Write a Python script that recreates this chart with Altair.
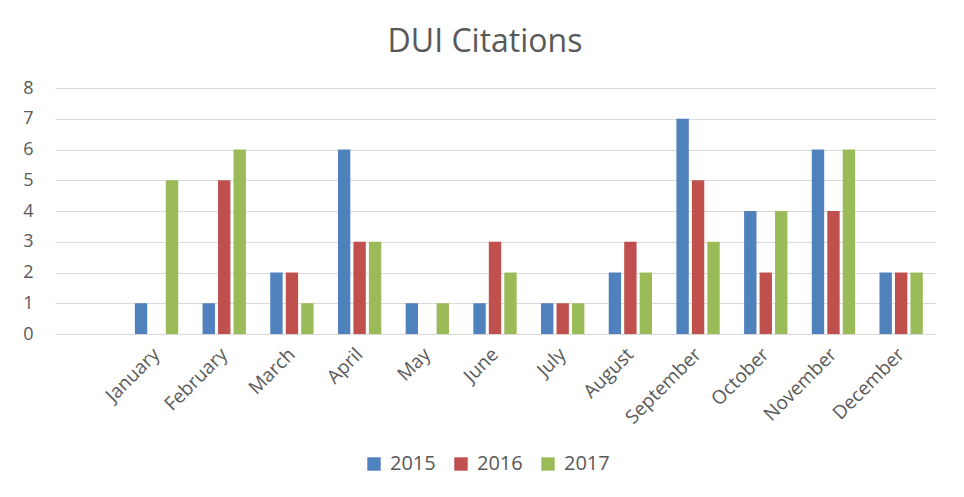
import altair as alt
import pandas as pd

months = ["January", "February", "March", "April", "May", "June",
          "July", "August", "September", "October", "November", "December"]
years = ["2015", "2016", "2017"]
v2015 = [1, 1, 2, 6, 1, 1, 1, 2, 7, 4, 6, 2]
v2016 = [0, 5, 2, 3, 0, 3, 1, 3, 5, 2, 4, 2]
v2017 = [5, 6, 1, 3, 1, 2, 1, 2, 3, 4, 6, 2]
colors = ["#4F81BD", "#C0504D", "#9BBB59"]

rows = []
for yr, vals in zip(years, [v2015, v2016, v2017]):
    for m, v in zip(months, vals):
        rows.append({"Month": m, "Year": yr, "Citations": v})
df = pd.DataFrame(rows)

domain_x = [""] + months
grey = "#595959"

chart = alt.Chart(df).mark_bar().encode(
    x=alt.X("Month:N", sort=domain_x,
            scale=alt.Scale(domain=domain_x, paddingInner=0.36, paddingOuter=0.18),
            axis=alt.Axis(title=None, labelAngle=-45, labelFontSize=19, labelColor=grey,
                          labelFont="Open Sans", ticks=False, domainColor="#d9d9d9",
                          labelPadding=17, labelAlign="right", labelBaseline="middle")),
    xOffset=alt.XOffset("Year:N", scale=alt.Scale(paddingInner=0.2)),
    y=alt.Y("Citations:Q", scale=alt.Scale(domain=[0, 8]),
            axis=alt.Axis(title=None, values=[0, 1, 2, 3, 4, 5, 6, 7, 8], labelFontSize=18,
                          labelColor=grey, labelFont="Open Sans", ticks=False, domain=False,
                          gridColor="#d9d9d9", labelPadding=22)),
    color=alt.Color("Year:N", scale=alt.Scale(domain=years, range=colors),
                    legend=alt.Legend(title=None, orient="none", direction="horizontal",
                                      legendX=309, legendY=366, symbolType="square",
                                      symbolSize=180, symbolStrokeWidth=0,
                                      labelFontSize=20, labelColor=grey, labelFont="Open Sans",
                                      columnPadding=15, labelOffset=6)),
).properties(
    width=880, height=246,
    title=alt.TitleParams("DUI Citations", fontSize=32, color=grey, font="Open Sans",
                          fontWeight="normal", anchor="middle", frame="group", dx=-10, offset=20),
    autosize=alt.AutoSizeParams(type="none"),
    padding={"left": 47, "top": 80, "right": 21, "bottom": 155},
).configure_view(stroke=None)

chart.save("out.html", embed_options={"renderer": "svg", "actions": False})
